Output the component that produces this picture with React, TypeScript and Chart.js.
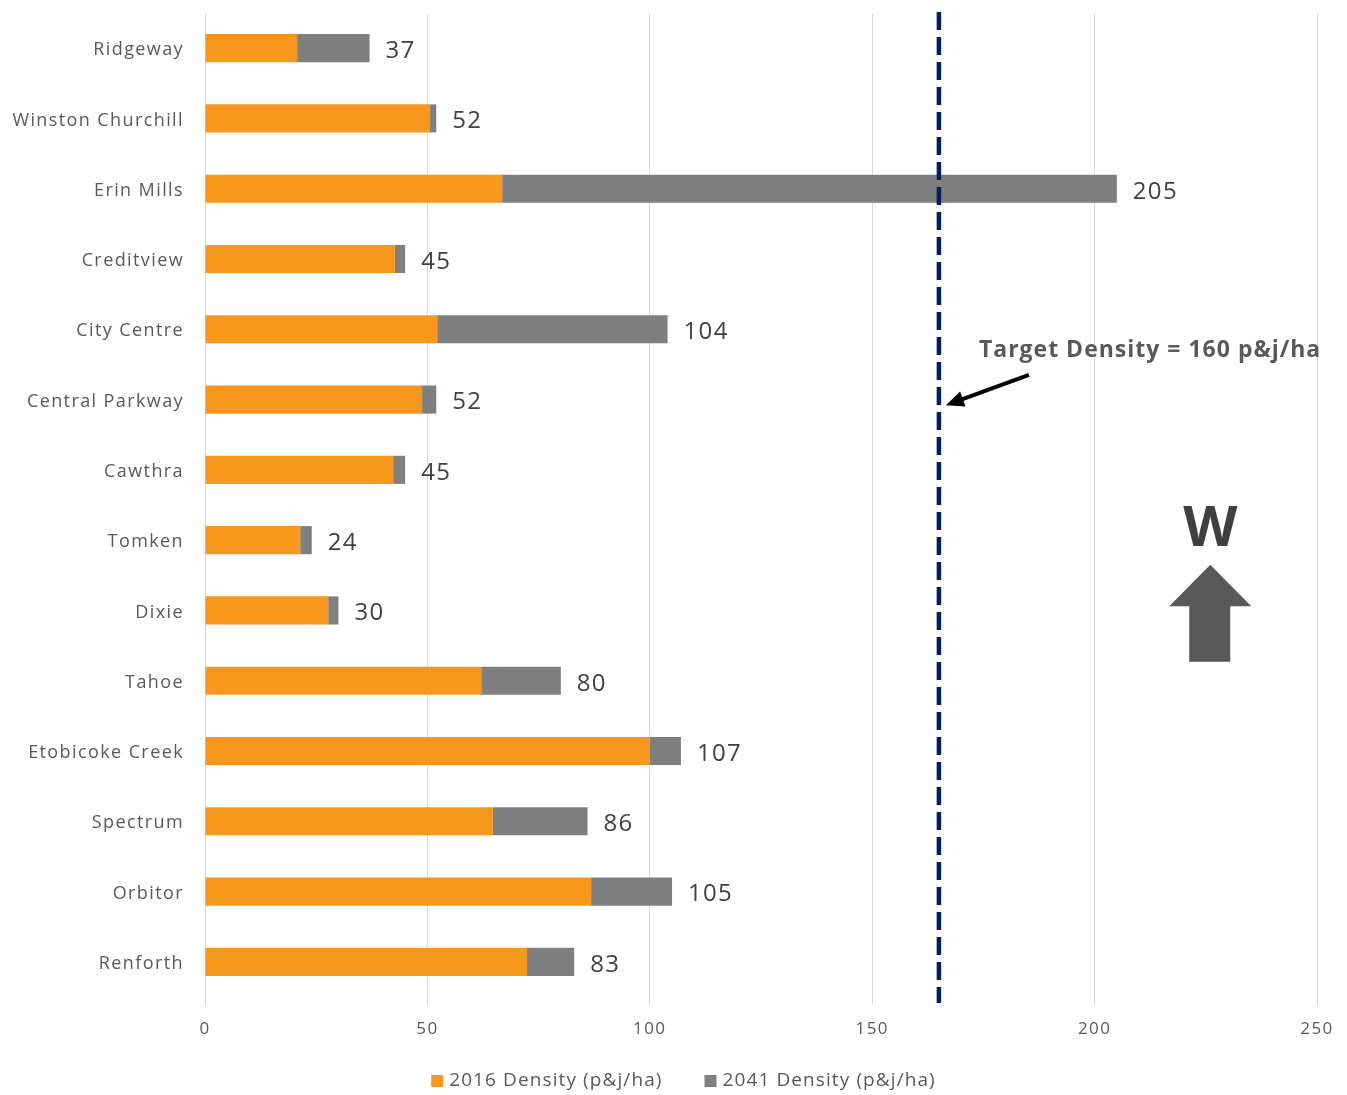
import React, { useEffect, useRef } from "react";
import { Chart, registerables } from "chart.js";

Chart.register(...registerables);

const categories = [
  "Ridgeway",
  "Winston Churchill",
  "Erin Mills",
  "Creditview",
  "City Centre",
  "Central Parkway",
  "Cawthra",
  "Tomken",
  "Dixie",
  "Tahoe",
  "Etobicoke Creek",
  "Spectrum",
  "Orbitor",
  "Renforth",
];

const density2016 = [20.7, 50.6, 66.8, 42.7, 52.2, 48.8, 42.3, 21.4, 27.7, 62.1, 100, 64.7, 86.8, 72.4];
const density2041 = [37, 52, 205, 45, 104, 52, 45, 24, 30, 80, 107, 86, 105, 83];

const xTicks = [0, 50, 100, 150, 200, 250];
const targetDensity = 165;
const targetLabel = "Target Density = 160 p&j/ha";
const seriesNames = ["2016 Density (p&j/ha)", "2041 Density (p&j/ha)"];

const ORANGE = "#F7981D";
const GRAY = "#7F7F7F";
const FONT = "'Open Sans', sans-serif";

const spacingPlugin = {
  id: "spacing",
  beforeDraw(chart: any) {
    chart.ctx.letterSpacing = "1.4px";
  },
};

const overlayPlugin = {
  id: "overlay",
  afterDatasetsDraw(chart: any) {
    const ctx = chart.ctx;
    const xs = chart.scales.x;
    const ys = chart.scales.y;
    const area = chart.chartArea;

    // value labels
    const meta = chart.getDatasetMeta(1);
    ctx.save();
    ctx.letterSpacing = "1.3px";
    ctx.font = `24px ${FONT}`;
    ctx.fillStyle = "#404040";
    ctx.textAlign = "left";
    ctx.textBaseline = "middle";
    meta.data.forEach((bar: any, i: number) => {
      ctx.fillText(String(density2041[i]), bar.x + 16, bar.y + 3);
    });
    ctx.restore();

    // target line
    const L = xs.getPixelForValue(targetDensity);
    ctx.save();
    ctx.strokeStyle = "#002060";
    ctx.lineWidth = 4.5;
    ctx.setLineDash([18, 7]);
    ctx.beginPath();
    ctx.moveTo(L, area.top - 1);
    ctx.lineTo(L, area.bottom + 6);
    ctx.stroke();
    ctx.restore();

    // target label
    const yText = ys.getPixelForValue(4.3);
    ctx.save();
    ctx.letterSpacing = "1px";
    ctx.font = `bold 23px ${FONT}`;
    ctx.fillStyle = "#595959";
    ctx.textAlign = "left";
    ctx.textBaseline = "middle";
    ctx.fillText(targetLabel, L + 40, yText);
    ctx.restore();

    // pointer arrow
    const y1 = ys.getPixelForValue(4.65);
    const y2 = ys.getPixelForValue(5.08);
    const x1 = L + 90;
    const x2 = L + 7;
    const ang = Math.atan2(y2 - y1, x2 - x1);
    ctx.save();
    ctx.strokeStyle = "#000000";
    ctx.fillStyle = "#000000";
    ctx.lineWidth = 4;
    ctx.beginPath();
    ctx.moveTo(x1, y1);
    ctx.lineTo(x2 + 12 * Math.cos(ang + Math.PI), y2 + 12 * Math.sin(ang + Math.PI));
    ctx.stroke();
    ctx.beginPath();
    ctx.moveTo(x2, y2);
    ctx.lineTo(x2 - 18 * Math.cos(ang) + 8 * Math.sin(ang), y2 - 18 * Math.sin(ang) - 8 * Math.cos(ang));
    ctx.lineTo(x2 - 18 * Math.cos(ang) - 8 * Math.sin(ang), y2 - 18 * Math.sin(ang) + 8 * Math.cos(ang));
    ctx.closePath();
    ctx.fill();
    ctx.restore();

    // compass W + up arrow
    const cx = xs.getPixelForValue(226);
    ctx.save();
    ctx.letterSpacing = "0px";
    ctx.font = `bold 56px ${FONT}`;
    ctx.fillStyle = "#404040";
    ctx.textAlign = "center";
    ctx.textBaseline = "middle";
    ctx.fillText("W", cx, ys.getPixelForValue(6.85));
    const tipY = ys.getPixelForValue(7.35);
    const baseY = ys.getPixelForValue(7.94);
    const botY = ys.getPixelForValue(8.73);
    ctx.fillStyle = "#595959";
    ctx.beginPath();
    ctx.moveTo(cx, tipY);
    ctx.lineTo(cx + 41, baseY);
    ctx.lineTo(cx + 20, baseY);
    ctx.lineTo(cx + 20, botY);
    ctx.lineTo(cx - 21, botY);
    ctx.lineTo(cx - 21, baseY);
    ctx.lineTo(cx - 41, baseY);
    ctx.closePath();
    ctx.fill();
    ctx.restore();

    // legend
    ctx.save();
    ctx.letterSpacing = "1.1px";
    ctx.font = `19px ${FONT}`;
    ctx.textBaseline = "middle";
    ctx.textAlign = "left";
    const box = 12;
    const gapBox = 6;
    const gapItem = 42;
    const w0 = ctx.measureText(seriesNames[0]).width;
    const w1 = ctx.measureText(seriesNames[1]).width;
    const total = box + gapBox + w0 + gapItem + box + gapBox + w1;
    let lx = chart.width / 2 - total / 2 + 10;
    const ly = 1081;
    const colors = [ORANGE, GRAY];
    [w0, w1].forEach((w, i) => {
      ctx.fillStyle = colors[i];
      ctx.fillRect(lx, ly - box / 2, box, box);
      ctx.fillStyle = "#595959";
      ctx.fillText(seriesNames[i], lx + box + gapBox, ly);
      lx += box + gapBox + w + gapItem;
    });
    ctx.restore();
  },
};

export default function App() {
  const ref = useRef<HTMLCanvasElement>(null);
  useEffect(() => {
    document.body.style.margin = "0";
    const chart = new Chart(ref.current!, {
      type: "bar",
      data: {
        labels: categories,
        datasets: [
          {
            label: seriesNames[0],
            data: density2016,
            backgroundColor: ORANGE,
            barPercentage: 0.4,
            categoryPercentage: 1,
          },
          {
            label: seriesNames[1],
            data: density2041.map((v, i) => v - density2016[i]),
            backgroundColor: GRAY,
            barPercentage: 0.4,
            categoryPercentage: 1,
          },
        ],
      },
      options: {
        indexAxis: "y",
        animation: false,
        responsive: false,
        maintainAspectRatio: false,
        layout: { padding: { top: 13, right: 30, left: 0, bottom: 0 } },
        plugins: {
          legend: { display: false },
          tooltip: { enabled: false },
        },
        scales: {
          x: {
            stacked: true,
            min: 0,
            max: 250,
            afterBuildTicks: (scale: any) => {
              scale.ticks = xTicks.map((v) => ({ value: v }));
            },
            afterFit: (scale: any) => {
              scale.height = 98;
              scale.paddingLeft = 0;
              scale.paddingRight = 0;
            },
            grid: { color: "#D9D9D9", lineWidth: 1, drawTicks: true, tickLength: 8 },
            border: { display: false },
            ticks: {
              color: "#595959",
              font: { family: FONT, size: 17 },
              padding: 14,
              maxRotation: 0,
            },
          },
          y: {
            stacked: true,
            afterFit: (scale: any) => {
              scale.width = 205;
              scale.paddingTop = 0;
              scale.paddingBottom = 0;
            },
            grid: { display: false, drawTicks: false },
            border: { display: false },
            ticks: {
              color: "#595959",
              font: { family: FONT, size: 18 },
              padding: 21,
              labelOffset: 2,
            },
          },
        },
      },
      plugins: [spacingPlugin, overlayPlugin],
    });
    return () => chart.destroy();
  }, []);
  return (
    <div style={{ width: 1347, height: 1095 }}>
      <canvas ref={ref} width={1347} height={1095} style={{ width: 1347, height: 1095 }} />
    </div>
  );
}
